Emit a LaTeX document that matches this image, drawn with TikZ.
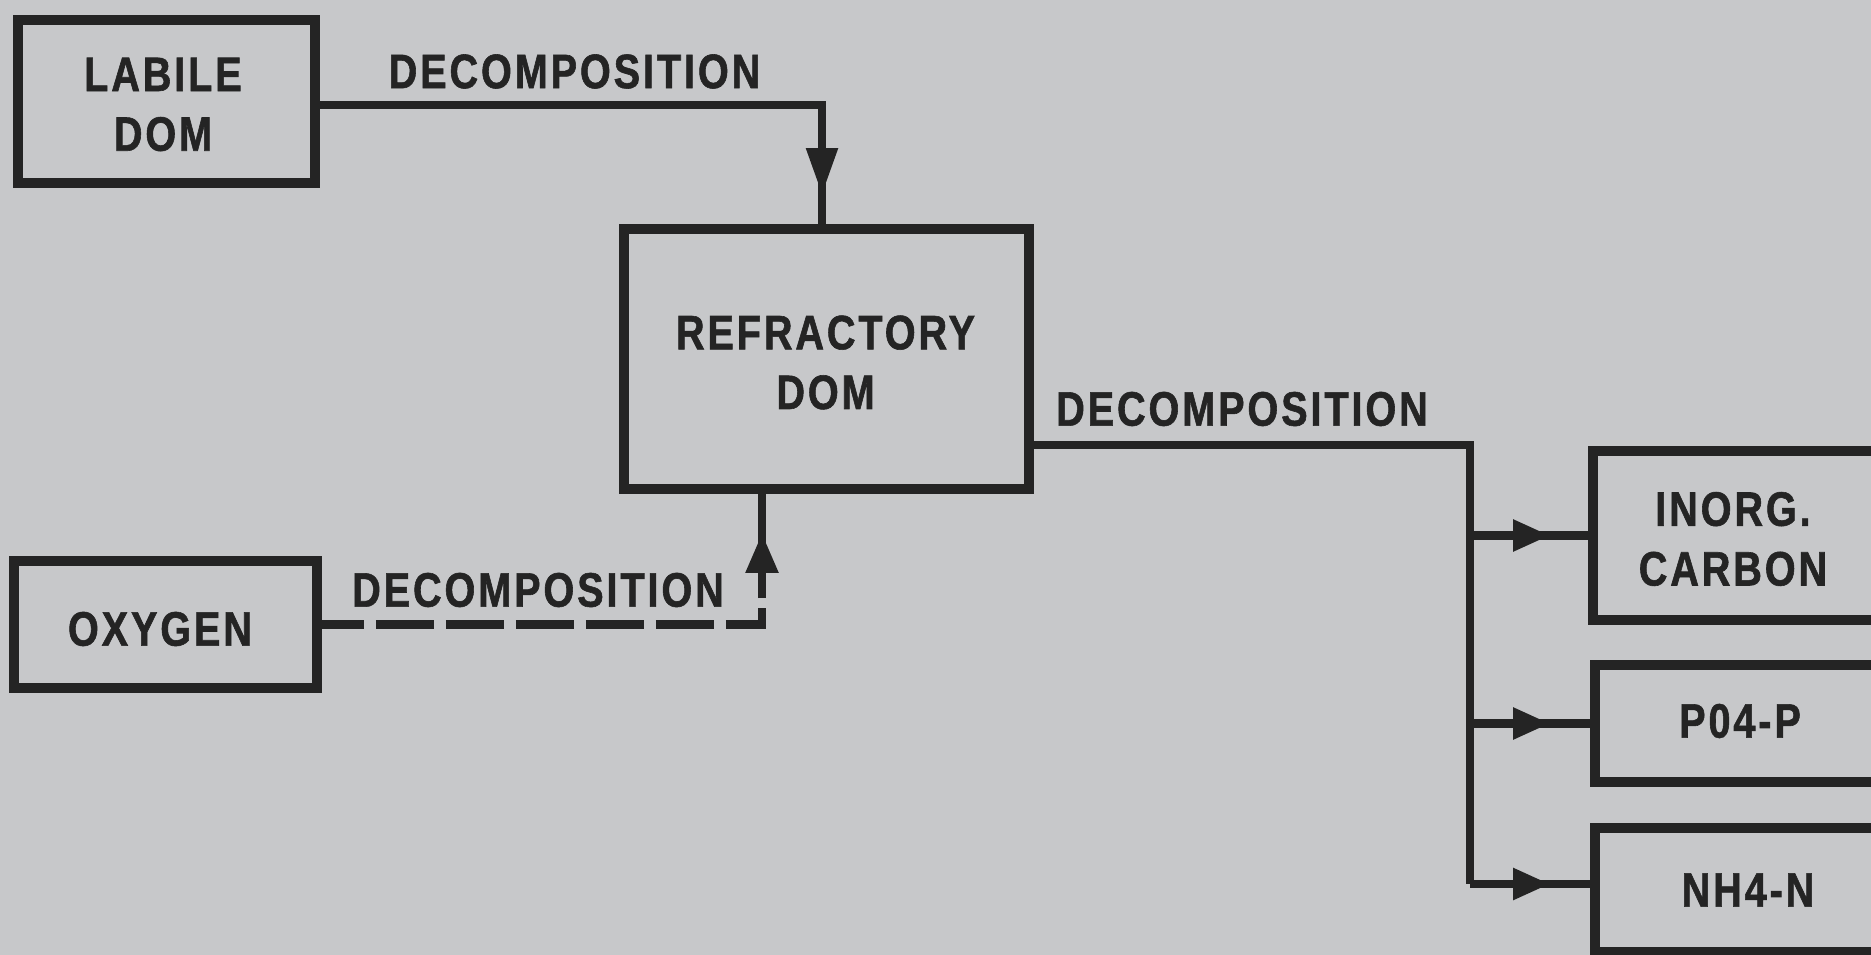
\documentclass[tikz,border=0pt]{standalone}
\usepackage{fontspec}
\setmainfont{Liberation Sans}[FakeStretch=0.82, LetterSpace=6, BoldFeatures={FakeBold=1.2}]
\usetikzlibrary{arrows.meta}
\definecolor{bgcol}{RGB}{199,200,202}
\definecolor{ink}{RGB}{36,36,36}
\begin{document}
\begin{tikzpicture}[x=0.02cm,y=-0.02cm,
  lbl/.style={font=\fontsize{27.5}{34}\selectfont\bfseries, text=ink, align=center, inner sep=0pt},
  box/.style={draw=ink, line width=0.2cm, inner sep=0pt, align=center, font=\fontsize{27.5}{34}\selectfont\bfseries, text=ink},
  conn/.style={draw=ink, line width=0.17cm},
  dtip/.style={-{Triangle[length=0.94cm,width=0.6cm]}},
  utip/.style={-{Triangle[length=0.8cm,width=0.62cm]}},
  htip/.style={-{Triangle[length=0.74cm,width=0.6cm]}}]
\useasboundingbox (0,0) rectangle (1871,955);
\fill[bgcol] (0,0) rectangle (1871,955);
\clip (0,0) rectangle (1871,955);
% boxes
\node[box, minimum width=5.94cm, minimum height=3.26cm] (labile) at (166.5,101.5) {};
\node[box, minimum width=8.1cm, minimum height=5.2cm] (refr) at (826.5,359) {};
\node[box, minimum width=6.06cm, minimum height=2.54cm] (oxy) at (165.5,624.5) {};
\node[box, minimum width=7.42cm, minimum height=3.38cm] (inorg) at (1778.5,535.5) {};
\node[box, minimum width=7.34cm, minimum height=2.34cm] (po4) at (1778.5,723.5) {};
\node[box, minimum width=7.34cm, minimum height=2.48cm] (nh4) at (1778.5,890) {};
% box texts
\node[lbl] (labiletxt) at (163,104.5) {LABILE\\DOM};
\node[lbl] (refrtxt) at (825.5,362.5) {REFRACTORY\\DOM};
\node[lbl] (oxytxt) at (160,629) {OXYGEN};
\node[lbl] (inorgtxt) at (1733,539) {INORG.\\CARBON};
\node[lbl] (po4txt) at (1740,721) {P04-P};
\node[lbl] (nh4txt) at (1748,890) {NH4-N};
% labels
\node[lbl] (d1) at (574.5,71.5) {DECOMPOSITION};
\node[lbl] (d2) at (1242,409) {DECOMPOSITION};
\node[lbl] (d3) at (538,590) {DECOMPOSITION};
% labile -> refractory
\coordinate (lline) at (0,105);
\coordinate (a1) at (822,195);
\coordinate (a1b) at (822,140);
\draw[conn] (labile.east |- lline) -| (a1 |- refr.north);
\draw[conn, dtip] (a1b) -- (a1);
% oxygen -> refractory
\coordinate (o1) at (762,608);
\coordinate (o2) at (762,598);
\coordinate (a2) at (762,533);
\coordinate (a2b) at (762,550);
\draw[conn, dash pattern=on 1.16cm off 0.24cm, dash phase=0.32cm] (oxy.east) -| (o1);
\draw[conn, utip] (o2) -- (a2);
\draw[conn] (a2b) -- (a2 |- refr.south);
% refractory -> products
\coordinate (rline) at (0,445);
\coordinate (bus) at (1470,884);
\coordinate (hb) at (1490,0);
\coordinate (ht) at (1550,0);
\draw[conn] (refr.east |- rline) -| (bus);
\draw[conn] (bus |- inorg.west) -- (inorg.west);
\draw[conn, htip] (hb |- inorg.west) -- (ht |- inorg.west);
\draw[conn] (bus |- po4.west) -- (po4.west);
\draw[conn, htip] (hb |- po4.west) -- (ht |- po4.west);
\draw[conn] (bus) -- (nh4.west |- bus);
\draw[conn, htip] (hb |- bus) -- (ht |- bus);
\end{tikzpicture}
\end{document}
